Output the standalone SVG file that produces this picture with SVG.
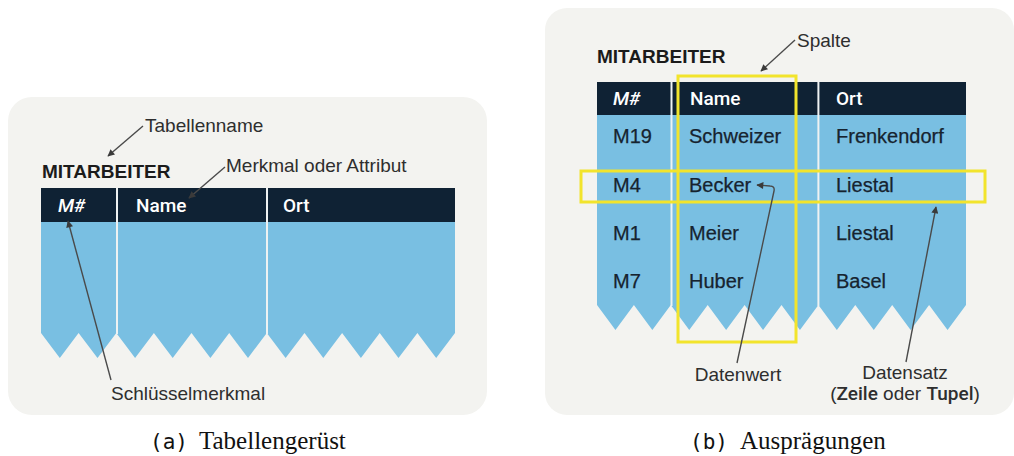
<svg xmlns="http://www.w3.org/2000/svg" width="1014" height="456" viewBox="0 0 1014 456">
  <style>
    .panel { fill: #f3f3f0; }
    .head { fill: #0f2234; }
    .body { fill: #79bfe2; }
    .sep { stroke: #eef2f2; stroke-width: 2; }
    .title { font-family: "Liberation Sans", Arial, sans-serif; font-size: 19px; font-weight: bold; fill: #1b1b1b; }
    .hd { font-family: Roboto, "Liberation Sans", Arial, sans-serif; font-size: 19px; font-weight: 500; fill: #ffffff; }
    .cell { font-family: "Liberation Sans", Arial, sans-serif; font-size: 20px; fill: #16232f; stroke: #16232f; stroke-width: 0.25; }
    .lbl { font-family: "Liberation Sans", Arial, sans-serif; font-size: 19px; fill: #2e2e2e; }
    .med { font-family: Roboto, "Liberation Sans", Arial, sans-serif; font-weight: 500; }
    .cap { font-family: "Liberation Serif", "Times New Roman", serif; font-size: 25px; fill: #111111; }
    .capm { font-family: "DejaVu Sans Mono", monospace; font-size: 21px; fill: #111111; }
    .yel { fill: none; stroke: #f2e42c; stroke-width: 3; }
    .conn { fill: none; stroke: #4a4a4a; stroke-width: 1.4; }
  </style>
  <defs>
    <marker id="ah" viewBox="0 0 10 10" refX="9" refY="5" markerWidth="8" markerHeight="7" markerUnits="userSpaceOnUse" orient="auto">
      <path d="M0,0 L10,5 L0,10 Z" fill="#3a3a3a"/>
    </marker>
  </defs>

  <g id="panel-a">
    <rect class="panel" x="8" y="97" width="479" height="318" rx="24"/>
  </g>
  <g id="panel-b">
    <rect class="panel" x="545" y="8" width="469" height="407" rx="22"/>
  </g>

  <g id="table-a">
    <polygon class="body" points="41,188 455,188 455,333 436.2,358 417.4,333 398.5,358 379.7,333 360.9,358 342.1,333 323.3,358 304.5,333 285.6,358 266.8,333 248,358 229.2,333 210.4,358 191.5,333 172.7,358 153.9,333 135.1,358 116.3,333 97.5,358 78.6,333 59.8,358 41,333"/>
    <rect class="head" x="41" y="188" width="414" height="34"/>
    <line class="sep" x1="117" y1="188" x2="117" y2="334"/>
    <line class="sep" x1="267" y1="188" x2="267" y2="334"/>
    <text class="title" x="42" y="178">MITARBEITER</text>
    <text class="hd" x="58" y="212" font-style="italic">M#</text>
    <text class="hd" x="136" y="212">Name</text>
    <text class="hd" x="283" y="212">Ort</text>
  </g>

  <g id="table-b">
    <polygon class="body" points="597,82 966,82 966,305 947.55,330 929.1,305 910.65,330 892.2,305 873.75,330 855.3,305 836.85,330 818.4,305 799.95,330 781.5,305 763.05,330 744.6,305 726.15,330 707.7,305 689.25,330 670.8,305 652.35,330 633.9,305 615.45,330 597,305"/>
    <rect class="head" x="597" y="82" width="369" height="33"/>
    <line class="sep" x1="671.5" y1="82" x2="671.5" y2="306"/>
    <line class="sep" x1="818.4" y1="82" x2="818.4" y2="306"/>
    <text class="title" x="597" y="63">MITARBEITER</text>
    <text class="hd" x="613" y="105" font-style="italic">M#</text>
    <text class="hd" x="690" y="105">Name</text>
    <text class="hd" x="836" y="105">Ort</text>
    <text class="cell" x="613" y="143">M19</text>
    <text class="cell" x="689" y="143">Schweizer</text>
    <text class="cell" x="836" y="143">Frenkendorf</text>
    <text class="cell" x="613" y="192">M4</text>
    <text class="cell" x="689" y="192">Becker</text>
    <text class="cell" x="836" y="192">Liestal</text>
    <text class="cell" x="613" y="240">M1</text>
    <text class="cell" x="689" y="240">Meier</text>
    <text class="cell" x="836" y="240">Liestal</text>
    <text class="cell" x="613" y="288">M7</text>
    <text class="cell" x="689" y="288">Huber</text>
    <text class="cell" x="836" y="288">Basel</text>
  </g>

  <g id="spalte-box">
    <rect class="yel" x="678" y="76" width="118" height="266"/>
  </g>
  <g id="datensatz-box">
    <rect class="yel" x="581" y="171" width="404" height="31"/>
  </g>

  <g id="labels">
    <text class="lbl" x="145" y="132">Tabellenname</text>
    <text class="lbl" x="226" y="172">Merkmal oder Attribut</text>
    <text class="lbl" x="111" y="400">Schlüsselmerkmal</text>
    <text class="lbl" x="797" y="47">Spalte</text>
    <text class="lbl" x="738" y="381" text-anchor="middle">Datenwert</text>
    <text class="lbl" x="905" y="379" text-anchor="middle">Datensatz</text>
    <text class="lbl" x="905" y="400" text-anchor="middle">(<tspan class="med">Zeile</tspan> oder <tspan class="med">Tupel</tspan>)</text>
  </g>

  <g id="connectors">
    <line class="conn" x1="143" y1="126" x2="108" y2="156" marker-end="url(#ah)"/>
    <line class="conn" x1="225" y1="167" x2="189" y2="198" marker-end="url(#ah)"/>
    <line class="conn" x1="111" y1="380" x2="68" y2="221" marker-end="url(#ah)"/>
    <line class="conn" x1="795" y1="40" x2="761" y2="71" marker-end="url(#ah)"/>
    <path class="conn" d="M737,363 L774,191 Q775,186 770,186 L757,185" marker-end="url(#ah)"/>
    <line class="conn" x1="906" y1="362" x2="936" y2="207" marker-end="url(#ah)"/>
  </g>

  <g id="captions">
    <text class="capm" x="150" y="449">(a)</text>
    <text class="cap" x="199" y="449">Tabellengerüst</text>
    <text class="capm" x="690" y="449">(b)</text>
    <text class="cap" x="740" y="449">Ausprägungen</text>
  </g>
</svg>
